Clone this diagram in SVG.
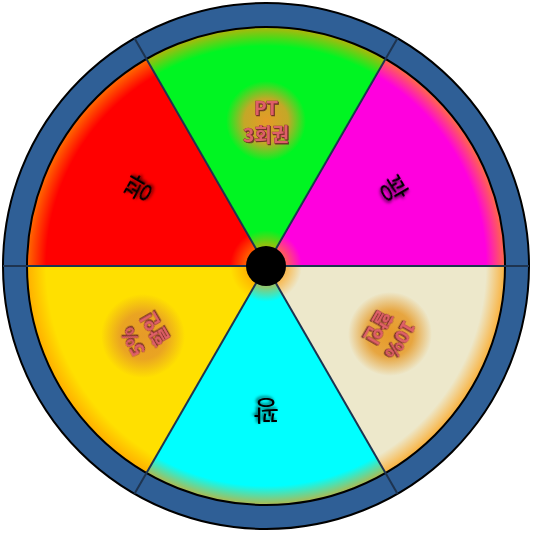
<svg xmlns="http://www.w3.org/2000/svg" width="533" height="533" viewBox="0 0 533 533">
<defs>
<radialGradient id="rimGlow" gradientUnits="userSpaceOnUse" cx="266" cy="266" r="239">
<stop offset="0" stop-color="#ff9a00" stop-opacity="0.8"/>
<stop offset="0.09" stop-color="#ff9a00" stop-opacity="0.55"/>
<stop offset="0.15" stop-color="#ff9a00" stop-opacity="0"/>
<stop offset="0.92" stop-color="#ff9a00" stop-opacity="0"/>
<stop offset="1" stop-color="#ff9a00" stop-opacity="0.7"/>
</radialGradient>
<radialGradient id="labelGlow">
<stop offset="0" stop-color="#e69a28" stop-opacity="1"/>
<stop offset="0.55" stop-color="#e69a28" stop-opacity="0.85"/>
<stop offset="1" stop-color="#e69a28" stop-opacity="0"/>
</radialGradient>
<filter id="blackShadow" x="-50%" y="-50%" width="200%" height="200%">
<feDropShadow dx="1.5" dy="1.5" stdDeviation="1.5" flood-color="#000" flood-opacity="0.7"/>
</filter>
<filter id="pinkShadow" x="-50%" y="-50%" width="200%" height="200%">
<feDropShadow dx="1" dy="1" stdDeviation="0.6" flood-color="#5a1a20" flood-opacity="0.8"/>
</filter>
</defs>
<style>
.seg{stroke:none}
.div{stroke:#1e3450;stroke-width:2;fill:none}
.black{font-family:"Noto Sans CJK KR","Noto Sans",sans-serif;font-size:28px;fill:#000;text-anchor:middle;filter:url(#blackShadow)}
.pink{font-family:"Noto Sans CJK KR","Noto Sans",sans-serif;font-size:19px;font-weight:bold;fill:#de5f68;stroke:#8a2c36;stroke-width:0.7;paint-order:stroke;text-anchor:middle;filter:url(#pinkShadow)}
</style>
<g id="wheel">
<path class="seg" fill="#ff00de" d="M266,266 L385.5,59 A239,239 0 0 1 505,266 Z"/>
<path class="seg" fill="#ede8cb" d="M266,266 L505,266 A239,239 0 0 1 385.5,473 Z"/>
<path class="seg" fill="#00ffff" d="M266,266 L385.5,473 A239,239 0 0 1 146.5,473 Z"/>
<path class="seg" fill="#ffe000" d="M266,266 L146.5,473 A239,239 0 0 1 27,266 Z"/>
<path class="seg" fill="#ff0000" d="M266,266 L27,266 A239,239 0 0 1 146.5,59 Z"/>
<path class="seg" fill="#00f522" d="M266,266 L146.5,59 A239,239 0 0 1 385.5,59 Z"/>
<circle cx="266" cy="266" r="239" fill="url(#rimGlow)"/>
<circle cx="266" cy="266" r="251" fill="none" stroke="#2f5f96" stroke-width="24"/>
<circle cx="266" cy="266" r="263" fill="none" stroke="#000" stroke-width="2"/>
<circle cx="266" cy="266" r="239" fill="none" stroke="#000" stroke-width="2"/>
</g>
<g id="connectors">
<line class="div" x1="3" y1="266" x2="529" y2="266"/>
<line class="div" x1="134.5" y1="38.2" x2="397.5" y2="493.8"/>
<line class="div" x1="397.5" y1="38.2" x2="134.5" y2="493.8"/>
</g>
<g id="hub">
<circle cx="266" cy="266" r="20" fill="#000"/>
</g>
<g id="label-top" transform="translate(266,121)">
<circle r="40" fill="url(#labelGlow)"/>
<text class="pink" y="-6">PT</text>
<text class="pink" y="21">3회권</text>
</g>
<g id="label-topright" transform="translate(393,189) rotate(60)">
<text class="black" y="10">꽝</text>
</g>
<g id="label-bottomright" transform="translate(390,334) rotate(120)">
<circle r="42" fill="url(#labelGlow)"/>
<text class="pink" y="-5">10%</text>
<text class="pink" y="21">할인</text>
</g>
<g id="label-bottom" transform="translate(266,410) rotate(180)">
<text class="black" y="10">꽝</text>
</g>
<g id="label-bottomleft" transform="translate(143,336) rotate(240)">
<circle r="42" fill="url(#labelGlow)"/>
<text class="pink" y="-5">5%</text>
<text class="pink" y="21">할인</text>
</g>
<g id="label-topleft" transform="translate(139,189) rotate(-60)">
<text class="black" y="10">꽝</text>
</g>
</svg>
